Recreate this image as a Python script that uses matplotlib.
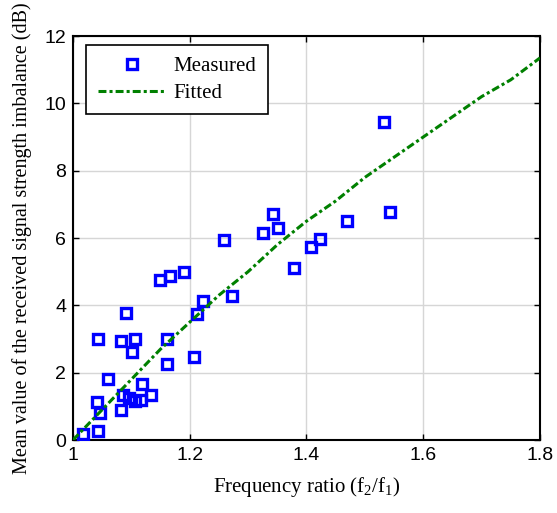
import matplotlib
matplotlib.use("Agg")
import matplotlib.pyplot as plt
import numpy as np

plt.rcParams["mathtext.fontset"] = "custom"
plt.rcParams["mathtext.rm"] = "Liberation Serif"
plt.rcParams["mathtext.it"] = "Liberation Serif"

# measured points (frequency ratio, imbalance in dB)
meas_x = [1.018, 1.043, 1.041, 1.046, 1.043, 1.060, 1.091, 1.083, 1.107, 1.101,
          1.085, 1.083, 1.096, 1.106, 1.116, 1.119, 1.134, 1.161, 1.161, 1.149,
          1.166, 1.190, 1.212, 1.222, 1.207, 1.272, 1.258, 1.378, 1.326, 1.342,
          1.352, 1.407, 1.423, 1.470, 1.532, 1.543]
meas_y = [0.17, 0.27, 1.14, 0.79, 3.00, 1.81, 3.78, 2.95, 3.00, 2.62,
          1.34, 0.89, 1.26, 1.17, 1.19, 1.65, 1.34, 3.00, 2.27, 4.75,
          4.87, 5.00, 3.74, 4.12, 2.48, 4.29, 5.93, 5.11, 6.15, 6.72,
          6.31, 5.74, 5.96, 6.51, 9.45, 6.77]

# fitted curve, sampled from the figure
fit_x = [1.00, 1.05, 1.10, 1.15, 1.20, 1.25, 1.30, 1.35, 1.40,
         1.45, 1.50, 1.55, 1.60, 1.65, 1.70, 1.75, 1.80]
fit_y = [0.0, 0.9, 1.8, 2.7, 3.5, 4.3, 5.0, 5.8, 6.5,
         7.1, 7.8, 8.4, 9.0, 9.6, 10.2, 10.7, 11.35]

xticks = [1, 1.2, 1.4, 1.6, 1.8]
xticklabels = ["1", "1.2", "1.4", "1.6", "1.8"]
yticks = [0, 2, 4, 6, 8, 10, 12]

serif = ["Liberation Serif", "DejaVu Serif"]
sans = ["Liberation Sans", "DejaVu Sans"]

fig = plt.figure(figsize=(5.57, 5.13), dpi=100)
ax = fig.add_axes([0.131, 0.1423, 0.8385, 0.7875])

ax.plot(meas_x, meas_y, linestyle="none", marker="s", markersize=7.8,
        markerfacecolor="none", markeredgecolor=(0, 0, 1), markeredgewidth=2.4,
        label="Measured", zorder=3)
ax.plot(fit_x, fit_y, linestyle=(0, (2.6, 1.0, 1.0, 1.0)), color=(0, 0.5, 0),
        linewidth=2.2, label="Fitted", zorder=4)

ax.set_xlim(1, 1.8)
ax.set_ylim(0, 12)
ax.set_xticks(xticks)
ax.set_xticklabels(xticklabels)
ax.set_yticks(yticks)
ax.grid(True, color="#d6d6d6", linewidth=1.0)
ax.set_axisbelow(True)
ax.tick_params(direction="in", top=True, right=True, length=4, width=1,
               labelsize=14, pad=5)
for lab in ax.get_xticklabels() + ax.get_yticklabels():
    lab.set_family(sans)
for sp in ax.spines.values():
    sp.set_linewidth(1.5)

ax.set_xlabel(r"Frequency ratio (f$_\mathrm{2}$/f$_\mathrm{1}$)", fontsize=15,
              family=serif, labelpad=8)
ax.set_ylabel("Mean value of the received signal strength imbalance (dB)",
              fontsize=14.5, family=serif, labelpad=9)

leg = ax.legend(loc="upper left", bbox_to_anchor=(0.028, 0.978),
                prop={"family": serif, "size": 15}, fancybox=False,
                edgecolor="black", framealpha=1, borderpad=0.55,
                handlelength=3.3, handletextpad=0.35, labelspacing=0.35,
                borderaxespad=0)
leg.get_frame().set_linewidth(1.2)

fig.savefig("out.png", dpi=100)
